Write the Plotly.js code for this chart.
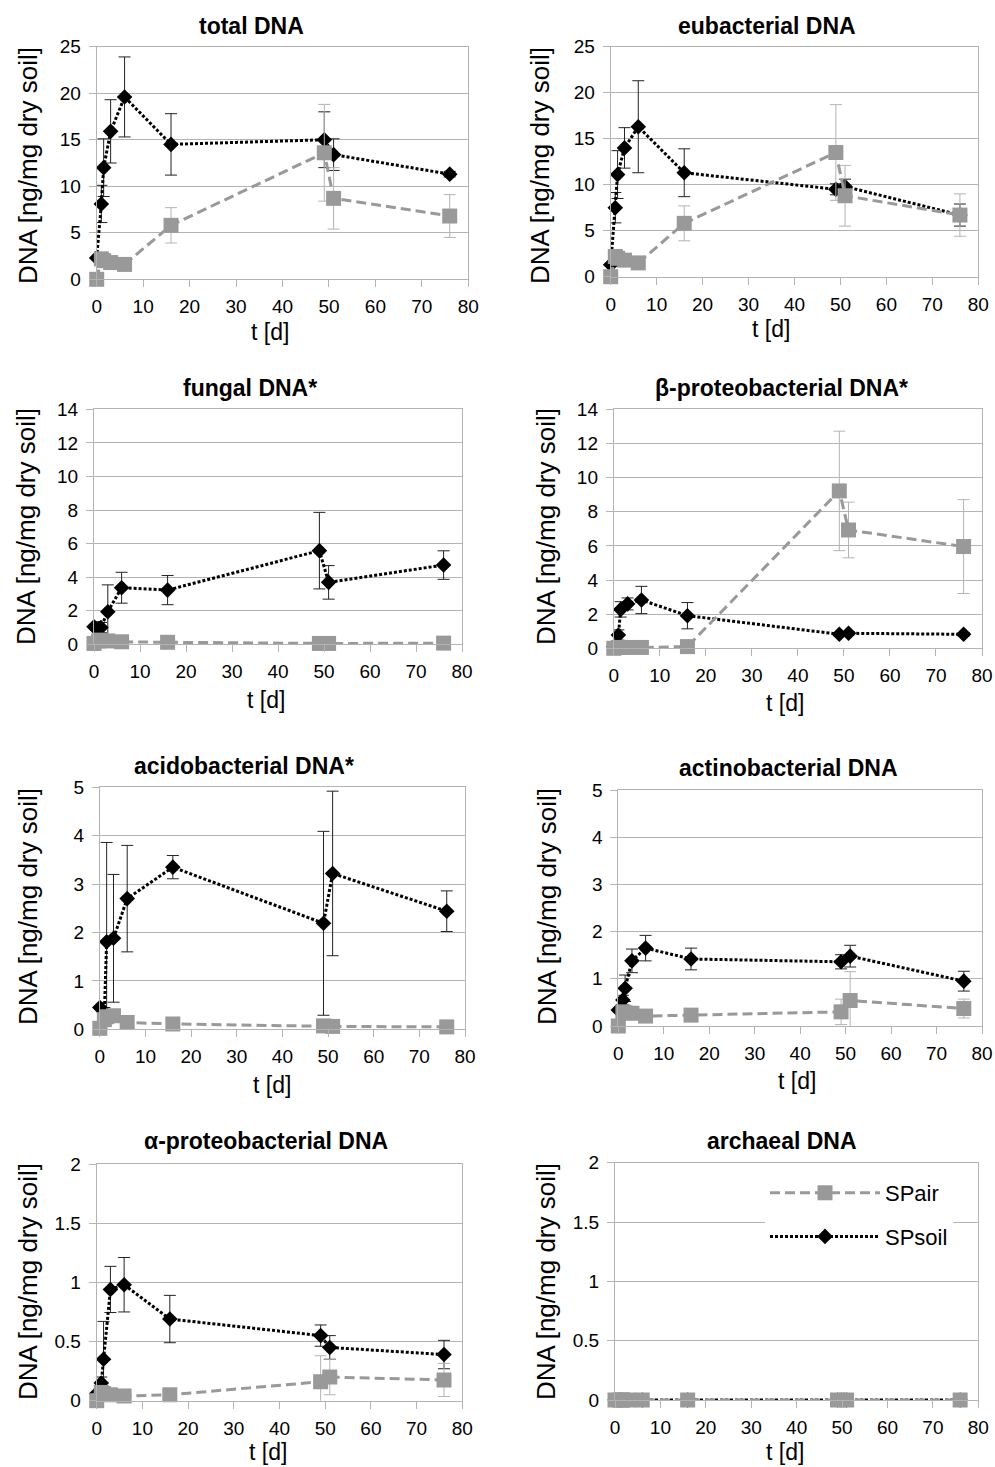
<!DOCTYPE html>
<html><head><meta charset="utf-8">
<script src="https://cdn.plot.ly/plotly-3.0.1.min.js"></script>
<style>html,body{margin:0;padding:0;background:#fff;}#chart{width:995px;height:1467px;}</style>
</head><body><div id="chart"></div>
<script>
// ---- data ----
const t = [0, 1, 1.5, 3, 6, 16, 49, 51, 76];
const seriesNames = ["SPair", "SPsoil"];
const panelTitles = ["total DNA", "eubacterial DNA", "fungal DNA*", "β-proteobacterial DNA*",
  "acidobacterial DNA*", "actinobacterial DNA", "α-proteobacterial DNA", "archaeal DNA"];
const yMax = [25, 25, 14, 14, 5, 5, 2, 2];
const yStep = [5, 5, 2, 2, 1, 1, 0.5, 0.5];
const xTitle = "t [d]";
const yTitle = "DNA [ng/mg dry soil]";

const totalSoil    = [2.3, 8.1, 12.0, 15.9, 19.6, 14.5, 15.0, 13.4, 11.3];
const totalSoilErr = [0.3, 2.0, 3.1, 3.4, 4.3, 3.3, 3.0, 1.7, 0.3];
const totalAir     = [0.0, 2.2, 2.0, 1.8, 1.6, 5.8, 13.6, 8.7, 6.8];
const totalAirErr  = [0.1, 0.4, 0.4, 0.4, 0.4, 1.9, 5.2, 3.3, 2.3];

const eubSoil    = [1.3, 7.5, 11.1, 14.0, 16.3, 11.3, 9.5, 9.8, 6.7];
const eubSoilErr = [0.2, 1.65, 2.6, 2.2, 5.0, 2.6, 0.6, 0.8, 1.2];
const eubAir     = [0.0, 2.2, 2.0, 1.8, 1.5, 5.8, 13.5, 8.8, 6.7];
const eubAirErr  = [0.1, 0.4, 0.4, 0.4, 0.4, 1.9, 5.2, 3.3, 2.3];

const fungSoil    = [1.05, 0.9, 1.0, 1.94, 3.37, 3.23, 5.58, 3.69, 4.72];
const fungSoilErr = [0.3, 0.3, 0.3, 1.6, 0.92, 0.87, 2.28, 1.0, 0.85];
const fungAir     = [0.05, 0.2, 0.25, 0.2, 0.15, 0.12, 0.05, 0.05, 0.07];
const fungAirErr  = [0.02, 0.05, 0.05, 0.05, 0.05, 0.03, 0.02, 0.02, 0.02];

const betaSoil    = [0.1, 0.78, 2.28, 2.6, 2.83, 1.91, 0.82, 0.88, 0.82];
const betaSoilErr = [0.05, 0.3, 0.45, 0.35, 0.8, 0.77, 0.1, 0.1, 0.1];
const betaAir     = [0.0, 0.05, 0.05, 0.05, 0.05, 0.1, 9.22, 6.93, 5.96];
const betaAirErr  = [0.0, 0.02, 0.02, 0.02, 0.02, 0.03, 3.5, 1.63, 2.75];

const acidoSoil    = [0.45, 0.35, 1.81, 1.88, 2.7, 3.35, 2.19, 3.22, 2.44];
const acidoSoilErr = [0.1, 0.1, 2.05, 1.32, 1.1, 0.24, 1.9, 1.7, 0.42];
const acidoAir     = [0.02, 0.2, 0.26, 0.28, 0.14, 0.11, 0.07, 0.06, 0.05];
const acidoAirErr  = [0.02, 0.05, 0.05, 0.05, 0.03, 0.03, 0.02, 0.02, 0.02];

const actinoSoil    = [0.34, 0.55, 0.8, 1.38, 1.65, 1.42, 1.36, 1.48, 0.95];
const actinoSoilErr = [0.05, 0.1, 0.28, 0.25, 0.27, 0.23, 0.15, 0.23, 0.21];
const actinoAir     = [0.0, 0.3, 0.28, 0.27, 0.21, 0.23, 0.3, 0.54, 0.37];
const actinoAirErr  = [0.02, 0.05, 0.05, 0.05, 0.05, 0.05, 0.27, 0.61, 0.2];

const alphaSoil    = [0.06, 0.15, 0.35, 0.94, 0.98, 0.69, 0.55, 0.45, 0.39];
const alphaSoilErr = [0.02, 0.05, 0.32, 0.195, 0.23, 0.2, 0.09, 0.1, 0.12];
const alphaAir     = [0.0, 0.07, 0.06, 0.05, 0.04, 0.05, 0.16, 0.2, 0.175];
const alphaAirErr  = [0.01, 0.02, 0.02, 0.01, 0.01, 0.01, 0.22, 0.15, 0.14];

const archSoil    = [0, 0, 0, 0, 0, 0, 0, 0, 0];
const archSoilErr = [0, 0, 0, 0, 0, 0, 0, 0, 0];
const archAir     = [0, 0, 0, 0, 0, 0, 0, 0, 0];
const archAirErr  = [0, 0, 0, 0, 0, 0, 0, 0, 0];

const soilData = [totalSoil, eubSoil, fungSoil, betaSoil, acidoSoil, actinoSoil, alphaSoil, archSoil];
const soilErr  = [totalSoilErr, eubSoilErr, fungSoilErr, betaSoilErr, acidoSoilErr, actinoSoilErr, alphaSoilErr, archSoilErr];
const airData  = [totalAir, eubAir, fungAir, betaAir, acidoAir, actinoAir, alphaAir, archAir];
const airErr   = [totalAirErr, eubAirErr, fungAirErr, betaAirErr, acidoAirErr, actinoAirErr, alphaAirErr, archAirErr];

// ---- layout geometry (pixels in a 995 x 1467 page) ----
const W = 995, H = 1467;
const boxes = [ // [x0, x1, yTop, yBottom]
  [96.7, 468.3, 46.7, 279.3],
  [610.7, 978.3, 46.7, 276.7],
  [94, 462, 409.3, 644.3],
  [613.8, 982, 409.3, 648.3],
  [99.8, 465, 787.3, 1029.3],
  [618.3, 982, 790, 1026],
  [96.7, 462.3, 1164, 1400.7],
  [615, 978.3, 1162.7, 1400]
];
const titlePos  = [[252, 26], [767, 26], [250, 388], [781, 388], [244, 766], [788, 768], [266, 1141], [782, 1141]];
const yTitlePos = [[28, 166], [540, 166], [26, 527], [546, 527], [28, 907], [547, 907], [28, 1282], [546, 1282]];
const xTitlePos = [[270, 332], [771, 329], [266, 700], [785, 703], [272, 1085], [797, 1081], [268, 1452], [785, 1452]];

const FONT = "Liberation Sans, Arial, sans-serif";
const GRID = "#b3b3b3";
const AIR = "#999999";

const traces = [];
const layout = {
  width: W, height: H,
  margin: {l: 0, r: 0, t: 0, b: 0},
  paper_bgcolor: "#fff", plot_bgcolor: "#fff",
  font: {family: FONT, color: "#000", size: 19},
  showlegend: true,
  legend: {
    x: 765 / W, y: 1 - 1172 / H, xanchor: "left", yanchor: "top",
    bgcolor: "#fff", borderwidth: 0,
    font: {family: FONT, size: 22, color: "#000"},
    traceorder: "grouped", tracegroupgap: 12, itemwidth: 110
  },
  annotations: []
};

for (let i = 0; i < 8; i++) {
  const n = i === 0 ? "" : String(i + 1);
  const b = boxes[i];
  const isLast = i === 7;
  traces.push({
    x: t, y: soilData[i], xaxis: "x" + n, yaxis: "y" + n,
    type: "scatter", mode: "lines+markers", name: seriesNames[1],
    legendgroup: "soil", legendrank: 2, showlegend: isLast, cliponaxis: false,
    line: {color: "#000", width: 3, dash: "3px,2px"},
    marker: {symbol: "diamond", size: 12, color: "#000"},
    error_y: {type: "data", array: soilErr[i], visible: true, color: "#222", thickness: 1, width: 6}
  });
  traces.push({
    x: t, y: airData[i], xaxis: "x" + n, yaxis: "y" + n,
    type: "scatter", mode: "lines+markers", name: seriesNames[0],
    legendgroup: "air", legendrank: 1, showlegend: isLast, cliponaxis: false,
    line: {color: AIR, width: 3, dash: "10px,5px"},
    marker: {symbol: "square", size: 15, color: AIR},
    error_y: {type: "data", array: airErr[i], visible: true, color: "#b3b3b3", thickness: 1, width: 6}
  });
  layout["xaxis" + n] = {
    domain: [b[0] / W, b[1] / W], anchor: "y" + n,
    range: [0, 80], dtick: 10, tick0: 0,
    showgrid: false, zeroline: false,
    showline: true, linecolor: GRID, linewidth: 1, mirror: true,
    ticks: "outside", ticklen: 7, tickcolor: GRID, tickwidth: 1,
    ticklabelstandoff: 3,
    tickfont: {family: FONT, size: 19, color: "#000"}, fixedrange: true
  };
  layout["yaxis" + n] = {
    domain: [1 - b[3] / H, 1 - b[2] / H], anchor: "x" + n,
    range: [0, yMax[i]], dtick: yStep[i], tick0: 0,
    showgrid: true, gridcolor: GRID, gridwidth: 1, zeroline: false,
    showline: true, linecolor: GRID, linewidth: 1, mirror: true,
    ticks: "outside", ticklen: 7, tickcolor: GRID, tickwidth: 1,
    ticklabelstandoff: 4,
    tickfont: {family: FONT, size: 19, color: "#000"}, fixedrange: true
  };
  layout.annotations.push({
    xref: "paper", yref: "paper", x: titlePos[i][0] / W, y: 1 - titlePos[i][1] / H,
    xanchor: "center", yanchor: "middle", showarrow: false,
    text: panelTitles[i], font: {family: FONT, size: 23, color: "#000", weight: "bold"}
  });
  layout.annotations.push({
    xref: "paper", yref: "paper", x: yTitlePos[i][0] / W, y: 1 - yTitlePos[i][1] / H,
    xanchor: "center", yanchor: "middle", showarrow: false, textangle: -90,
    text: yTitle, font: {family: FONT, size: 26, color: "#000"}
  });
  layout.annotations.push({
    xref: "paper", yref: "paper", x: xTitlePos[i][0] / W, y: 1 - xTitlePos[i][1] / H,
    xanchor: "center", yanchor: "middle", showarrow: false,
    text: xTitle, font: {family: FONT, size: 23, color: "#000"}
  });
}

Plotly.newPlot("chart", traces, layout, {staticPlot: true, displayModeBar: false});
</script>
</body></html>
